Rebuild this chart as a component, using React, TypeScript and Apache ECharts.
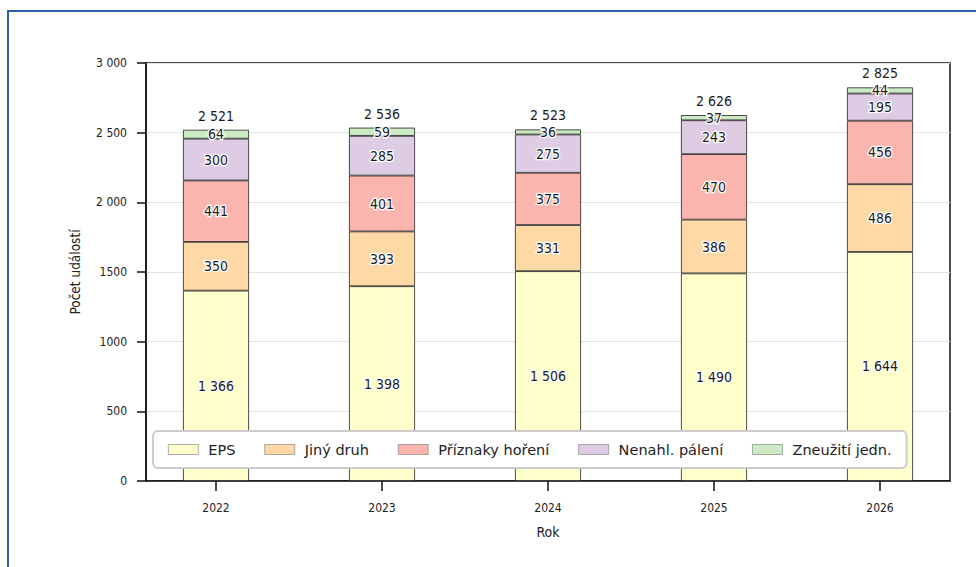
import React, { useEffect, useRef } from "react";
import * as echarts from "echarts";

const years = [2022, 2023, 2024, 2025, 2026];
const yearLabels = ["2022", "2023", "2024", "2025", "2026"];
const eps = [1366, 1398, 1506, 1490, 1644];
const jinyDruh = [350, 393, 331, 386, 486];
const priznaky = [441, 401, 375, 470, 456];
const nenahl = [300, 285, 275, 243, 195];
const zneuziti = [64, 59, 36, 37, 44];
const seriesNames = ["EPS", "Jiný druh", "Příznaky hoření", "Nenahl. pálení", "Zneužití jedn."];
const seriesColors = ["#ffffcc", "#fed9a6", "#fbb4ae", "#decbe4", "#ccebc5"];
const yTickLabels: Record<number, string> = {
  0: "0",
  500: "500",
  1000: "1000",
  1500: "1500",
  2000: "2 000",
  2500: "2 500",
  3000: "3 000",
};

const NARROW = "'DejaVu Sans Condensed', 'DejaVu Sans', sans-serif";

function fmt(n: number): string {
  const s = String(n);
  if (n >= 1000) return s.slice(0, s.length - 3) + " " + s.slice(s.length - 3);
  return s;
}

export default function App() {
  const ref = useRef<HTMLDivElement>(null);
  useEffect(() => {
    if (!ref.current) return;
    const chart = echarts.init(ref.current, null, { renderer: "svg" });
    const all = [eps, jinyDruh, priznaky, nenahl, zneuziti];
    const totals = years.map((_, i) => all.reduce((s, arr) => s + arr[i], 0));
    const barSeries = all.map((arr, k) => ({
      name: seriesNames[k],
      type: "bar",
      stack: "total",
      xAxisIndex: 1,
      yAxisIndex: 1,
      barWidth: 66,
      data: arr,
      itemStyle: { color: seriesColors[k], borderColor: "#222", borderWidth: 0.8 },
      label: {
        show: true,
        position: "inside",
        formatter: (p: any) => fmt(p.value),
        fontFamily: NARROW,
        fontSize: 14,
        color: "#1a1a1a",
        textBorderColor: "#fff",
        textBorderWidth: 2.5,
      },
    }));
    const totalSeries = {
      name: "Celkem",
      type: "bar",
      stack: "total",
      xAxisIndex: 1,
      yAxisIndex: 1,
      barWidth: 66,
      data: years.map(() => 0),
      itemStyle: { color: "rgba(0,0,0,0)", borderWidth: 0 },
      label: {
        show: true,
        position: "top",
        distance: 7,
        formatter: (p: any) => fmt(totals[p.dataIndex]),
        fontFamily: NARROW,
        fontSize: 14,
        color: "#1a1a1a",
      },
    };
    chart.setOption({
      animation: false,
      backgroundColor: "#fff",
      grid: [
        {
          left: 146,
          top: 63,
          right: 26,
          bottom: 86,
          show: true,
          borderColor: "#111",
          borderWidth: 1.5,
          backgroundColor: "transparent",
        },
        { left: 133, top: 63, right: 13, bottom: 86, show: false },
      ],
      graphic: [
        {
          type: "rect",
          shape: { x: 8, y: 11, width: 1200, height: 800 },
          style: { fill: "none", stroke: "#2c5ea3", lineWidth: 2 },
          silent: true,
        },
      ],
      legend: {
        data: seriesNames,
        left: 153,
        top: 431,
        orient: "horizontal",
        icon: "rect",
        itemWidth: 30,
        itemHeight: 10,
        itemGap: 29,
        padding: [11, 15, 11, 15],
        backgroundColor: "#fff",
        borderColor: "#cccccc",
        borderWidth: 2,
        borderRadius: 5,
        itemStyle: { borderColor: "#777", borderWidth: 0.6 },
        textStyle: {
          fontFamily: "'DejaVu Sans', sans-serif",
          fontSize: 14.5,
          color: "#222",
          padding: [0, 0, 0, 5],
        },
      },
      xAxis: [
        {
          type: "value",
          gridIndex: 0,
          min: 2022 - 70 / 166,
          max: 2026 + 70 / 166,
          name: "Rok",
          nameLocation: "middle",
          nameGap: 44,
          nameTextStyle: { fontFamily: NARROW, fontSize: 14, color: "#222" },
          axisLine: { show: true, lineStyle: { color: "#111", width: 1.5 } },
          axisTick: { show: true, length: 10, customValues: years, lineStyle: { color: "#111", width: 1.5 } },
          axisLabel: {
            customValues: years,
            formatter: (v: number) => String(v),
            fontFamily: NARROW,
            fontSize: 12,
            color: "#222",
            margin: 21,
          },
          splitLine: { show: false },
        },
        {
          type: "category",
          gridIndex: 1,
          data: yearLabels,
          boundaryGap: true,
          show: false,
        },
      ],
      yAxis: [
        {
          type: "value",
          gridIndex: 0,
          min: 0,
          max: 3000,
          interval: 500,
          name: "Počet událostí",
          nameLocation: "middle",
          nameGap: 64,
          nameTextStyle: { fontFamily: NARROW, fontSize: 13.5, color: "#222" },
          axisLine: { show: true, lineStyle: { color: "#111", width: 1.5 } },
          axisTick: { show: true, length: 9, lineStyle: { color: "#111", width: 1.5 } },
          axisLabel: {
            formatter: (v: number) => yTickLabels[v] ?? String(v),
            fontFamily: NARROW,
            fontSize: 12,
            color: "#222",
            margin: 19,
          },
          splitLine: { show: true, lineStyle: { color: "#e3e3e3", width: 1 } },
        },
        {
          type: "value",
          gridIndex: 1,
          min: 0,
          max: 3000,
          show: false,
          splitLine: { show: false },
        },
      ],
      series: [...barSeries, totalSeries],
    });
    return () => chart.dispose();
  }, []);
  return (
    <div
      ref={ref}
      style={{ position: "fixed", left: 0, top: 0, width: 976, height: 567, background: "#fff" }}
    />
  );
}
